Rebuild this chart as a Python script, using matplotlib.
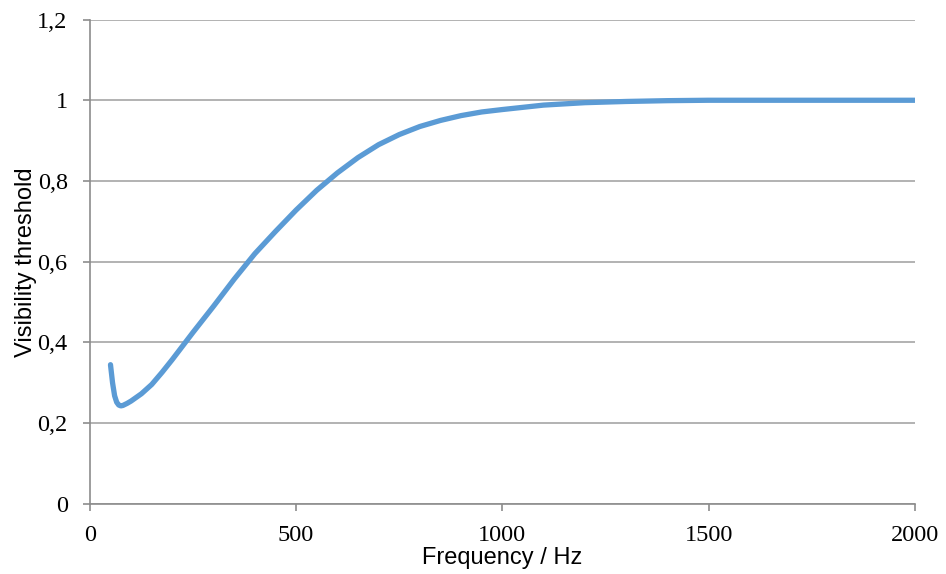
import matplotlib.pyplot as plt
import numpy as np

# frequency (Hz) and visibility threshold
freq = [50, 55, 60, 65, 70, 75, 80, 90, 100, 125, 150, 175, 200, 250, 300, 350,
        400, 450, 500, 550, 600, 650, 700, 750, 800, 850, 900, 950, 1000,
        1100, 1200, 1300, 1400, 1500, 1750, 2000]
threshold = [0.345, 0.30, 0.268, 0.252, 0.245, 0.243, 0.244, 0.249, 0.255, 0.273,
             0.296, 0.326, 0.358, 0.425, 0.49, 0.557, 0.62, 0.675, 0.728, 0.777,
             0.82, 0.858, 0.89, 0.915, 0.935, 0.95, 0.962, 0.971, 0.977,
             0.988, 0.994, 0.997, 0.999, 1.0, 1.0, 1.0]

xticks = [0, 500, 1000, 1500, 2000]
yticks = [0, 0.2, 0.4, 0.6, 0.8, 1.0, 1.2]
ytick_labels = ["0", "0,2", "0,4", "0,6", "0,8", "1", "1,2"]

fig = plt.figure(figsize=(9.46, 5.74), dpi=100)
ax = fig.add_axes([0.095, 0.122, 0.872, 0.844])

ax.plot(freq, threshold, color="#5B9BD5", linewidth=3.8,
        solid_capstyle="round", solid_joinstyle="round")

ax.set_xlim(0, 2000)
ax.set_ylim(0, 1.2)
ax.set_xticks(xticks)
ax.set_xticklabels([str(x) for x in xticks], fontsize=17.5, family="Liberation Serif")
ax.set_yticks(yticks)
ax.set_yticklabels(ytick_labels, fontsize=17.5, family="Liberation Serif")

ax.set_xlabel("Frequency / Hz", fontsize=17, family="Liberation Sans", labelpad=1)
ax.set_ylabel("Visibility threshold", fontsize=17, family="Liberation Sans", labelpad=0)

# grid and formatting
ax.grid(which="major", axis="y", color="#A6A6A6", linewidth=1.2)
ax.set_axisbelow(True)
for side in ["top", "right"]:
    ax.spines[side].set_visible(False)
for side in ["left", "bottom"]:
    ax.spines[side].set_color("#8C8C8C")
    ax.spines[side].set_linewidth(1.2)
ax.tick_params(axis="both", direction="out", length=5, width=1.2, color="#8C8C8C")
ax.tick_params(axis="x", pad=10)
ax.tick_params(axis="y", pad=11)

plt.savefig("out.png", dpi=100)
